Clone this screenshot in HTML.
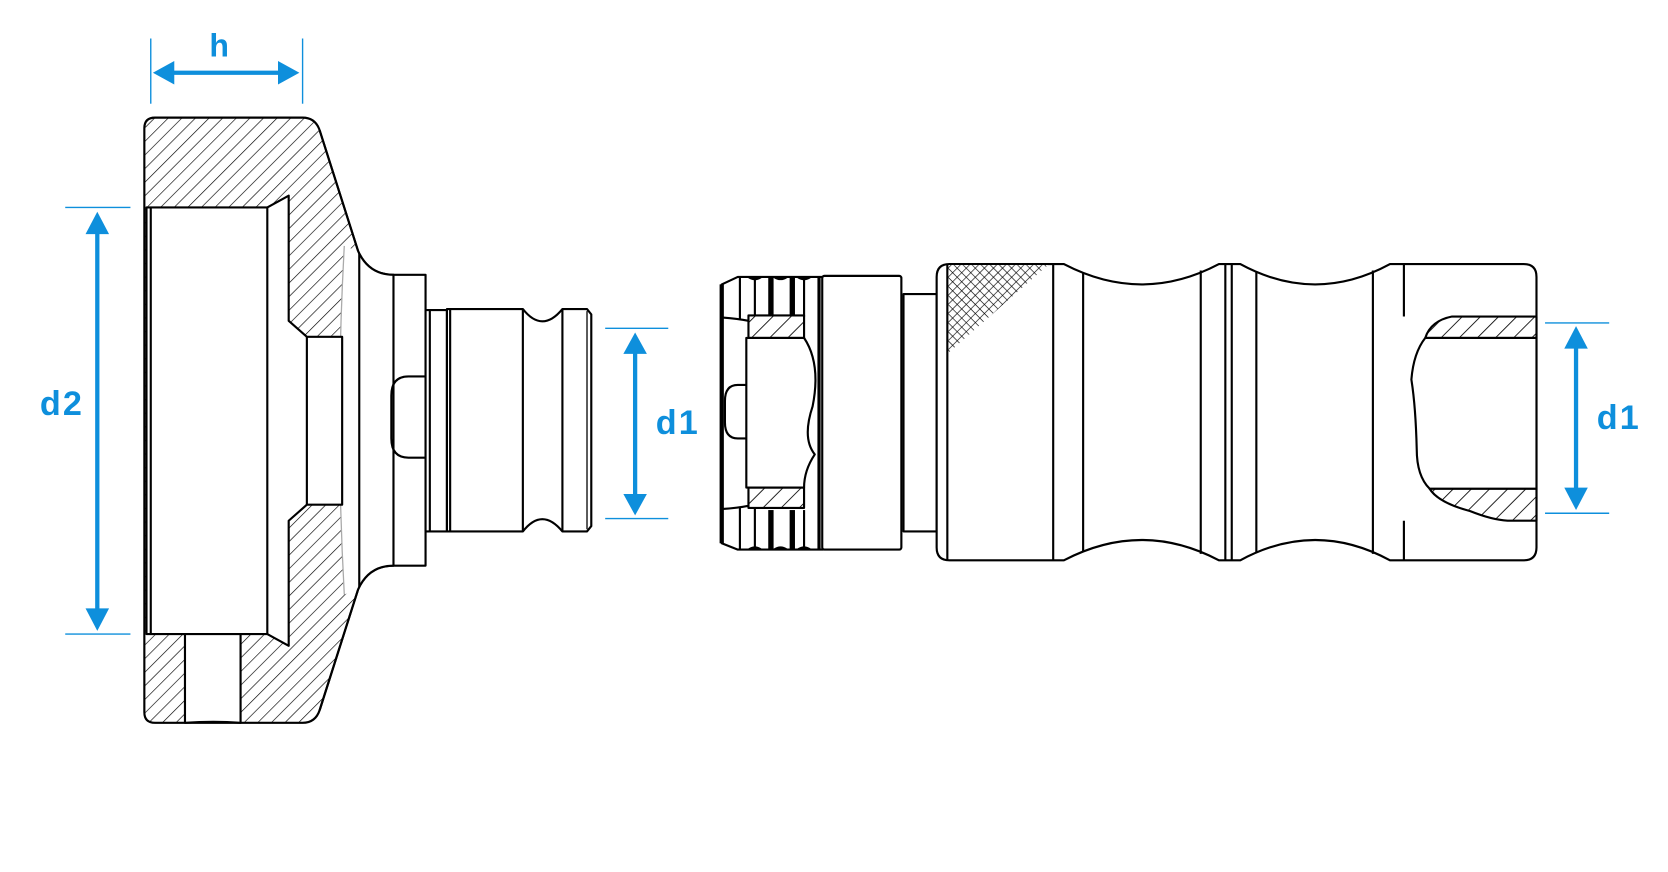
<!DOCTYPE html>
<html><head><meta charset="utf-8"><style>
html,body{margin:0;padding:0;background:#fff;}
svg{display:block;}
text{font-family:"Liberation Sans",sans-serif;font-weight:bold;fill:#0e8fdc;}
</style></head><body>
<svg width="1668" height="872" viewBox="0 0 1560 815.5" preserveAspectRatio="none" xmlns="http://www.w3.org/2000/svg">
<defs>
<pattern id="h" width="9" height="9" patternUnits="userSpaceOnUse" patternTransform="rotate(45)">
<rect width="9" height="9" fill="#fff"/><line x1="0" y1="0" x2="0" y2="9" stroke="#000" stroke-width="1.2"/>
</pattern>
<pattern id="h2" width="12" height="12" patternUnits="userSpaceOnUse" patternTransform="rotate(45)">
<rect width="12" height="12" fill="#fff"/><line x1="0" y1="0" x2="0" y2="12" stroke="#000" stroke-width="1.6"/>
</pattern>
<pattern id="k" width="6" height="6" patternUnits="userSpaceOnUse" patternTransform="rotate(45)">
<rect width="6" height="6" fill="#fff"/><line x1="0" y1="0" x2="0" y2="6" stroke="#000" stroke-width="1.2"/><line x1="0" y1="0" x2="6" y2="0" stroke="#000" stroke-width="1.2"/>
</pattern>
</defs>
<g fill="none" stroke="#000" stroke-width="2" stroke-linejoin="round">
<!-- LEFT PART -->
<path d="M135,120 Q135,110 145,110 L283,110 Q295,110 299,122 L335,235 Q345,257 368,257 L368,529 Q345,529 335,551 L299,664 Q295,676 283,676 L145,676 Q135,676 135,666 Z" fill="url(#h)"/>
<path d="M322,230 L335,235 Q345,257 368,257 L368,529 Q345,529 335,551 L322,556 Q312,393 322,230 Z" fill="#fff" stroke="none"/>
<path d="M322,230 Q313,393 322,556" stroke="#aaa" stroke-width="1.2"/>
<path d="M299,122 L335,235 Q345,257 368,257 M368,529 Q345,529 335,551 L299,664"/>
<line x1="336" y1="237" x2="336" y2="549"/>
<!-- inner bore -->
<path d="M137,194 L250,194 L270,183 L270,300 L287,315 L320,315 L320,472 L287,472 L270,487 L270,604 L250,593 L137,593 Z" fill="#fff"/>
<line x1="141" y1="194" x2="141" y2="593"/>
<line x1="250" y1="194" x2="250" y2="593"/>
<line x1="287" y1="315" x2="287" y2="472"/>
<path d="M173,593 L225,593 L225,676 Q200,674 173,676 Z" fill="#fff"/>
<!-- flange and pin -->
<rect x="368" y="257" width="30" height="272" fill="#fff"/>
<path d="M398,352 L382,352 Q366,352 366,370 L366,410 Q366,428 382,428 L398,428"/>
<rect x="398" y="290" width="20" height="207" fill="#fff"/>
<line x1="402" y1="290" x2="402" y2="497"/>
<path d="M418,289 L489,289 Q507,312 526,289 L549,289 L553,294 L553,492 L549,497 L526,497 Q507,474 489,497 L418,497 Z" fill="#fff"/>
<line x1="421" y1="289" x2="421" y2="497"/>
<line x1="489" y1="289" x2="489" y2="497"/>
<line x1="526" y1="289" x2="526" y2="497"/>
<line x1="549" y1="291" x2="549" y2="495" stroke-width="1.2"/>

<!-- MIDDLE CAP -->
<path d="M675,266 L690,259 L770,259 L770,514 L690,514 L675,508 Z" fill="#fff"/>
<path d="M675,266 L675,508" stroke-width="4"/>
<path d="M700,259 Q706,263 712,259 M724,259 Q730,263 736,259 M746,259 Q752,263 758,259" stroke-width="2"/>
<path d="M700,514 Q706,510 712,514 M724,514 Q730,510 736,514 M746,514 Q752,510 758,514" stroke-width="2"/>
<line x1="692" y1="259" x2="692" y2="298"/><line x1="692" y1="475" x2="692" y2="514"/>
<line x1="706" y1="259" x2="706" y2="298"/><line x1="706" y1="475" x2="706" y2="514"/>
<line x1="721" y1="259" x2="721" y2="296" stroke-width="5"/><line x1="721" y1="477" x2="721" y2="514" stroke-width="5"/>
<line x1="741" y1="259" x2="741" y2="296" stroke-width="5"/><line x1="741" y1="477" x2="741" y2="514" stroke-width="5"/>
<line x1="752" y1="259" x2="752" y2="296"/><line x1="752" y1="477" x2="752" y2="514"/>
<path d="M676,297 Q690,298 700,300"/><path d="M676,476 Q690,475 700,473"/>
<path d="M700,295 L752,295 L752,316 L700,316 Z" fill="url(#h2)"/>
<path d="M700,456 L752,456 L752,475 L700,475 Z" fill="url(#h2)"/>
<path d="M698,316 L752,316 Q768,340 760,380 Q750,410 762,425 Q752,440 752,456 L698,456 Z" fill="#fff"/>
<path d="M698,360 L690,360 Q678,360 678,375 L678,395 Q678,410 690,410 L698,410"/>
<line x1="766" y1="259" x2="766" y2="514" stroke-width="3"/>
<rect x="769" y="258" width="74" height="256" fill="#fff" rx="2"/>
<rect x="845" y="275" width="31" height="222" fill="#fff"/>

<!-- HANDLE -->
<path d="M888,247 L995,247 Q1068,285 1140,247 L1160,247 Q1230,285 1300,247 L1425,247 Q1437,247 1437,259 L1437,512 Q1437,524 1425,524 L1300,524 Q1230,486 1160,524 L1140,524 Q1068,486 995,524 L888,524 Q876,524 876,512 L876,259 Q876,247 888,247 Z" fill="#fff"/>
<path d="M887,248 L980,248 L887,330 Z" fill="url(#k)" stroke="none"/>
<line x1="886" y1="247" x2="886" y2="524"/>
<line x1="985" y1="247" x2="985" y2="524"/>
<line x1="1013" y1="255" x2="1013" y2="516"/>
<line x1="1123" y1="253" x2="1123" y2="518"/>
<line x1="1146" y1="247" x2="1146" y2="524"/>
<line x1="1152" y1="247" x2="1152" y2="524"/>
<line x1="1175" y1="254" x2="1175" y2="517"/>
<line x1="1284" y1="253" x2="1284" y2="518"/>
<line x1="1313" y1="247" x2="1313" y2="296"/>
<line x1="1313" y1="487" x2="1313" y2="524"/>
<path d="M1437,296 L1358,296 Q1338,300 1333,316 L1437,316 Z" fill="url(#h2)"/>
<path d="M1437,457 L1337,457 Q1345,470 1375,478 Q1395,486 1410,487 L1437,487 Z" fill="url(#h2)"/>
<path d="M1333,316 L1437,316 L1437,457 L1337,457 Q1325,445 1325,420 Q1324,380 1320,355 Q1322,330 1333,316 Z" fill="#fff"/>
</g>

<!-- DIMENSIONS -->
<g stroke="#0e8fdc" stroke-width="1.3" fill="none">
<line x1="141" y1="36" x2="141" y2="97"/><line x1="283" y1="36" x2="283" y2="97"/>
<line x1="61" y1="194" x2="122" y2="194"/><line x1="61" y1="593" x2="122" y2="593"/>
<line x1="566" y1="307" x2="625" y2="307"/><line x1="566" y1="485" x2="625" y2="485"/>
<line x1="1445" y1="302" x2="1505" y2="302"/><line x1="1445" y1="480" x2="1505" y2="480"/>
</g>
<g stroke="#0e8fdc" stroke-width="4">
<line x1="160" y1="68" x2="264" y2="68"/>
<line x1="91" y1="215" x2="91" y2="572"/>
<line x1="594" y1="328" x2="594" y2="464"/>
<line x1="1474" y1="323" x2="1474" y2="459"/>
</g>
<g fill="#0e8fdc">
<path d="M143,68 L163,57 L163,79 Z"/><path d="M280,68 L260,57 L260,79 Z"/>
<path d="M91,198 L80,219 L102,219 Z"/><path d="M91,590 L80,569 L102,569 Z"/>
<path d="M594,311 L583,331 L605,331 Z"/><path d="M594,482 L583,462 L605,462 Z"/>
<path d="M1474,305 L1463,326 L1485,326 Z"/><path d="M1474,477 L1463,456 L1485,456 Z"/>
</g>
<text x="205" y="53" font-size="30" text-anchor="middle">h</text>
<text x="58" y="388" font-size="32" text-anchor="middle" letter-spacing="2">d2</text>
<text x="634" y="406" font-size="32" text-anchor="middle" letter-spacing="2">d1</text>
<text x="1514" y="401" font-size="32" text-anchor="middle" letter-spacing="2">d1</text>
</svg>
</body></html>
